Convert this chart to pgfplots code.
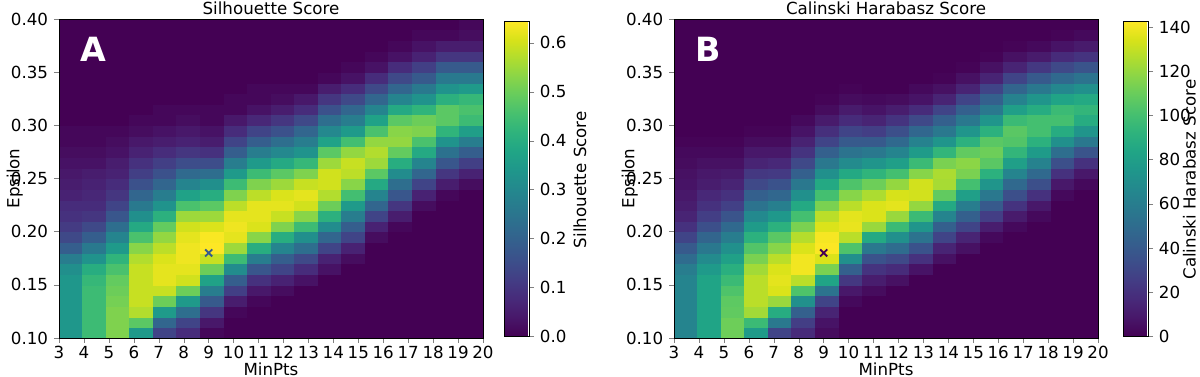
\documentclass[border=0pt]{standalone}
\usepackage{fontspec}
\setmainfont{DejaVu Sans}
\usepackage{pgfplots}
\usepackage{pgfplotstable}
\pgfplotsset{compat=1.18}
\pgfplotsset{/pgf/number format/assume math mode=true}

% silhouette score, rows = epsilon (cell centres), columns = MinPts 3..20
\pgfplotstableread{
eps c3 c4 c5 c6 c7 c8 c9 c10 c11 c12 c13 c14 c15 c16 c17 c18 c19 c20
0.105 0.34 0.44 0.52 0.35 0.13 0.08 0.01 0 0 0 0 0 0 0 0 0 0 0
0.115 0.34 0.44 0.52 0.48 0.21 0.13 0.04 0 0 0 0 0 0 0 0 0 0 0
0.125 0.34 0.44 0.52 0.57 0.35 0.23 0.10 0.01 0 0 0 0 0 0 0 0 0 0
0.135 0.34 0.44 0.51 0.59 0.50 0.35 0.18 0.05 0.01 0 0 0 0 0 0 0 0 0
0.145 0.34 0.44 0.50 0.59 0.59 0.50 0.27 0.12 0.04 0.02 0 0 0 0 0 0 0 0
0.155 0.34 0.43 0.49 0.59 0.62 0.60 0.37 0.19 0.09 0.06 0.03 0 0 0 0 0 0 0
0.165 0.32 0.40 0.46 0.59 0.62 0.62 0.50 0.31 0.17 0.13 0.08 0.03 0 0 0 0 0 0
0.175 0.27 0.33 0.42 0.57 0.61 0.63 0.59 0.44 0.27 0.19 0.14 0.06 0.02 0 0 0 0 0
0.185 0.19 0.26 0.35 0.53 0.58 0.63 0.644 0.55 0.40 0.29 0.23 0.13 0.06 0 0 0 0 0
0.195 0.14 0.19 0.29 0.46 0.54 0.62 0.64 0.62 0.53 0.40 0.32 0.21 0.13 0.02 0 0 0 0
0.205 0.11 0.14 0.23 0.39 0.49 0.60 0.61 0.63 0.61 0.52 0.44 0.31 0.19 0.06 0.01 0 0 0
0.215 0.09 0.10 0.17 0.32 0.41 0.55 0.55 0.62 0.62 0.59 0.53 0.41 0.27 0.13 0.05 0 0 0
0.225 0.08 0.08 0.13 0.26 0.33 0.46 0.48 0.58 0.62 0.62 0.60 0.50 0.35 0.21 0.10 0.02 0 0
0.235 0.06 0.07 0.10 0.21 0.27 0.37 0.40 0.52 0.58 0.61 0.62 0.57 0.45 0.29 0.17 0.06 0.01 0
0.245 0.05 0.06 0.08 0.16 0.21 0.29 0.32 0.44 0.52 0.55 0.59 0.60 0.53 0.39 0.23 0.13 0.05 0.02
0.255 0.04 0.05 0.06 0.12 0.16 0.22 0.23 0.35 0.44 0.48 0.52 0.60 0.58 0.48 0.31 0.21 0.10 0.06
0.265 0.03 0.03 0.05 0.09 0.12 0.15 0.15 0.27 0.35 0.39 0.43 0.55 0.59 0.55 0.40 0.29 0.17 0.12
0.275 0.02 0.02 0.03 0.06 0.08 0.10 0.09 0.19 0.27 0.30 0.33 0.48 0.54 0.57 0.49 0.39 0.24 0.19
0.285 0.01 0.01 0.02 0.04 0.05 0.06 0.05 0.13 0.19 0.23 0.27 0.37 0.45 0.54 0.54 0.46 0.33 0.27
0.295 0.01 0.01 0.01 0.02 0.03 0.04 0.03 0.08 0.13 0.16 0.21 0.30 0.35 0.46 0.53 0.52 0.42 0.36
0.305 0 0 0 0.01 0.01 0.02 0.01 0.04 0.07 0.10 0.14 0.23 0.27 0.37 0.48 0.50 0.48 0.44
0.315 0 0 0 0 0.01 0.01 0.01 0.01 0.03 0.05 0.08 0.16 0.21 0.29 0.39 0.42 0.48 0.46
0.325 0 0 0 0 0 0 0 0.01 0.01 0.02 0.04 0.10 0.14 0.21 0.29 0.33 0.41 0.43
0.335 0 0 0 0 0 0 0 0 0.01 0.01 0.01 0.05 0.08 0.14 0.21 0.26 0.33 0.35
0.345 0 0 0 0 0 0 0 0 0 0 0 0.01 0.03 0.08 0.14 0.18 0.26 0.26
0.355 0 0 0 0 0 0 0 0 0 0 0 0 0.01 0.03 0.08 0.12 0.18 0.18
0.365 0 0 0 0 0 0 0 0 0 0 0 0 0 0.01 0.03 0.06 0.10 0.10
0.375 0 0 0 0 0 0 0 0 0 0 0 0 0 0 0.01 0.03 0.05 0.05
0.385 0 0 0 0 0 0 0 0 0 0 0 0 0 0 0 0.01 0.01 0.02
0.395 0 0 0 0 0 0 0 0 0 0 0 0 0 0 0 0 0 0.01
}\silA

% calinski harabasz score, same grid
\pgfplotstableread{
eps c3 c4 c5 c6 c7 c8 c9 c10 c11 c12 c13 c14 c15 c16 c17 c18 c19 c20
0.105 64 83 111 78 29 17 4 0 0 0 0 0 0 0 0 0 0 0
0.115 64 83 111 97 57 26 7 0 0 0 0 0 0 0 0 0 0 0
0.125 64 83 108 123 88 43 14 0 0 0 0 0 0 0 0 0 0 0
0.135 64 83 107 128 121 71 29 3 0 0 0 0 0 0 0 0 0 0
0.145 64 83 103 128 135 103 54 9 4 0 0 0 0 0 0 0 0 0
0.155 64 83 97 128 137 128 83 23 11 6 0 0 0 0 0 0 0 0
0.165 60 77 90 123 135 140 114 43 21 17 7 0 0 0 0 0 0 0
0.175 50 68 81 114 128 140 135 71 36 31 20 6 0 0 0 0 0 0
0.185 40 57 71 104 117 135 142 103 57 50 36 14 6 0 0 0 0 0
0.195 29 46 60 91 106 127 141 128 86 71 54 29 14 3 0 0 0 0
0.205 20 34 48 78 91 114 135 138 121 97 74 43 29 11 3 0 0 0
0.215 14 26 37 67 76 100 128 137 135 121 97 64 43 26 10 3 0 0
0.225 11 20 27 54 61 86 114 128 135 137 120 86 60 40 21 9 0 0
0.235 9 16 20 43 47 71 100 117 125 134 133 108 80 57 34 20 3 0
0.245 7 11 14 31 36 57 86 103 111 120 133 124 100 74 48 34 9 3
0.255 6 9 10 23 24 43 71 86 93 100 117 125 114 91 64 48 20 9
0.265 4 6 6 14 16 31 57 68 74 80 97 114 118 106 80 63 34 20
0.275 3 3 3 9 9 21 43 54 57 64 78 94 108 111 94 78 51 37
0.285 1 1 1 4 4 13 29 40 40 48 63 74 91 106 104 91 71 57
0.295 0 0 0 1 1 7 19 29 26 34 47 57 74 91 106 100 88 74
0.305 0 0 0 0 0 3 10 17 14 21 31 43 57 74 97 100 100 88
0.315 0 0 0 0 0 0 4 10 7 11 17 29 43 57 80 88 97 94
0.325 0 0 0 0 0 0 1 4 3 4 7 14 29 43 63 74 83 86
0.335 0 0 0 0 0 0 0 1 0 0 3 6 14 29 46 57 66 71
0.345 0 0 0 0 0 0 0 0 0 0 0 1 6 14 29 40 48 54
0.355 0 0 0 0 0 0 0 0 0 0 0 0 1 6 14 23 31 37
0.365 0 0 0 0 0 0 0 0 0 0 0 0 0 1 6 10 17 21
0.375 0 0 0 0 0 0 0 0 0 0 0 0 0 0 1 3 7 10
0.385 0 0 0 0 0 0 0 0 0 0 0 0 0 0 0 0 1 3
0.395 0 0 0 0 0 0 0 0 0 0 0 0 0 0 0 0 0 0
}\chB

\definecolor{maxmark}{RGB}{165,0,0}

\pgfplotsset{
  heat/.style={
    scale only axis, width=254.4pt, height=191.4pt,
    xmin=3, xmax=20, ymin=0.1, ymax=0.4,
    enlargelimits=false, axis on top, clip marker paths=true,
    xtick={3,...,20},
    ytick={0.10,0.15,0.20,0.25,0.30,0.35,0.40},
    yticklabel style={/pgf/number format/.cd, fixed, fixed zerofill, precision=2},
    xticklabel style={yshift=1.5pt},
    tick align=outside, tick pos=left, major tick length=3pt,
    axis line style={line width=0.5pt},
    every axis title/.style={at={(rel axis cs:0.5,1)}, anchor=base, yshift=2.6pt},
    xlabel={MinPts}, ylabel={Epsilon},
    every axis x label/.style={at={(rel axis cs:0.5,0)}, anchor=center, yshift=-18.5pt},
    every axis y label/.style={at={(rel axis cs:0,0.5)}, rotate=90, anchor=center, yshift=26.5pt},
    colormap/viridis,
    colorbar,
  },
  cells/.style={scatter, only marks, mark=square*, mark size=7.1pt,
    scatter/use mapped color={draw=mapped color, fill=mapped color},
    mark options={yscale=0.452, line width=0.3pt}},
  cbar/.style={
    scale only axis, width=15pt, height=189pt,
    at={(parent axis.north east)}, anchor=north west, yshift=-1.4pt,
    tick align=outside, ytick pos=right, yticklabel pos=right,
    major tick length=3pt, axis line style={line width=0.5pt},
  },
}

\begin{document}
\begin{tikzpicture}
\useasboundingbox (-35.4pt,-23.4pt) rectangle (684.6pt,202.8pt);

\begin{axis}[heat, title={Silhouette Score},
    point meta min=0, point meta max=0.644,
    colorbar style={cbar, xshift=4.1pt,
      ytick={0,0.1,0.2,0.3,0.4,0.5,0.6},
      yticklabel style={/pgf/number format/.cd, fixed, fixed zerofill, precision=1}}]
\pgfplotsinvokeforeach{3,...,20}{
  \addplot[cells, point meta=\thisrow{c#1}]
    table[x expr={3+(#1-2.5)*17/18}, y=eps] {\silA};
}
\addplot[only marks, mark=x, mark size=3pt, line width=1.1pt, color=maxmark]
  coordinates {(9,0.18)};
\node[text=white, font=\fontsize{20}{24}\selectfont\bfseries] at (rel axis cs:0.08,0.905) {A};
\end{axis}

\begin{axis}[heat, at={(369pt,0pt)}, anchor=south west,
    title={Calinski Harabasz Score},
    point meta min=0, point meta max=142.6,
    colorbar style={cbar, xshift=6.5pt,
      ytick={0,20,40,60,80,100,120,140}}]
\pgfplotsinvokeforeach{3,...,20}{
  \addplot[cells, point meta=\thisrow{c#1}]
    table[x expr={3+(#1-2.5)*17/18}, y=eps] {\chB};
}
\addplot[only marks, mark=x, mark size=3pt, line width=1.1pt, color=maxmark]
  coordinates {(9,0.18)};
\node[text=white, font=\fontsize{20}{24}\selectfont\bfseries] at (rel axis cs:0.08,0.905) {B};
\end{axis}

% colorbar labels
\node[rotate=90, anchor=center] at (312.5pt,95pt) {Silhouette Score};
\node[rotate=90, anchor=center] at (678.3pt,95pt) {Calinski Harabasz Score};
\end{tikzpicture}
\end{document}
